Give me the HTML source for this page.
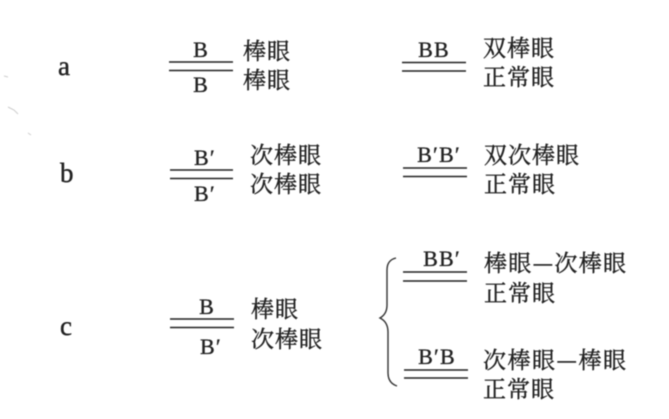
<!DOCTYPE html>
<html><head><meta charset="utf-8">
<style>
html,body{margin:0;padding:0;background:#fff;width:669px;height:419px;overflow:hidden}
svg{display:block;filter:blur(0.5px)}
.l{font-family:"Liberation Serif",serif;fill:#222;stroke:#222;stroke-width:.4}
.z{font-family:"Liberation Serif",serif;font-size:22px;fill:#222;stroke:#222;stroke-width:.35;text-anchor:middle;letter-spacing:1.2px}
.c{font-family:"Noto Serif CJK SC","Liberation Serif",serif;font-size:23px;fill:#222;stroke:#222;stroke-width:.4;letter-spacing:1px}
line{stroke:#222;stroke-width:1.6}
</style></head><body>
<svg width="669" height="419" viewBox="0 0 669 419" xmlns="http://www.w3.org/2000/svg">
<text class="l" x="58" y="75" font-size="27">a</text>
<text class="l" x="60" y="182" font-size="27">b</text>
<text class="l" x="60" y="335" font-size="27">c</text>

<text class="z" x="201" y="57">B</text>
<line x1="169" y1="62" x2="233" y2="62"/><line x1="169" y1="70.5" x2="233" y2="70.5"/>
<text class="z" x="201" y="92">B</text>
<text class="c" x="243" y="59">棒眼</text>
<text class="c" x="243" y="88">棒眼</text>

<text class="z" x="205" y="165">B′</text>
<line x1="170" y1="170" x2="233" y2="170"/><line x1="170" y1="178.5" x2="233" y2="178.5"/>
<text class="z" x="205" y="201">B′</text>
<text class="c" x="250" y="163">次棒眼</text>
<text class="c" x="250" y="192">次棒眼</text>

<text class="z" x="434" y="57">BB</text>
<line x1="402" y1="62.5" x2="466" y2="62.5"/><line x1="402" y1="71" x2="466" y2="71"/>
<text class="c" x="483" y="56">双棒眼</text>
<text class="c" x="483" y="85">正常眼</text>

<text class="z" x="439" y="162">B′B′</text>
<line x1="403" y1="168" x2="467" y2="168"/><line x1="403" y1="176.5" x2="467" y2="176.5"/>
<text class="c" x="484" y="163">双次棒眼</text>
<text class="c" x="484" y="192">正常眼</text>

<text class="z" x="207" y="314">B</text>
<line x1="170" y1="319" x2="234" y2="319"/><line x1="170" y1="327.5" x2="234" y2="327.5"/>
<text class="z" x="211" y="354">B′</text>
<text class="c" x="251" y="317">棒眼</text>
<text class="c" x="251" y="347">次棒眼</text>

<path d="M396 258 Q387 260 387 270 L387 305 Q387 314 380 318 Q388 322 388 332 L388 373 Q388 383 397 386" fill="none" stroke="#333" stroke-width="1.4"/>

<text class="z" x="442" y="266">BB′</text>
<line x1="403" y1="272" x2="467" y2="272"/><line x1="403" y1="281" x2="467" y2="281"/>
<text class="c" x="484" y="271" textLength="143">棒眼—次棒眼</text>
<text class="c" x="484" y="301">正常眼</text>

<text class="z" x="437" y="364">B′B</text>
<line x1="404" y1="370" x2="468" y2="370"/><line x1="404" y1="378" x2="468" y2="378"/>
<text class="c" x="483" y="368" textLength="144">次棒眼—棒眼</text>
<text class="c" x="483" y="397">正常眼</text>

<path d="M4 76 L8 77 M8 107 L14 110 L18 114 M28 133 L31 135" stroke="#ccc" stroke-width="1" fill="none"/>
</svg>
</body></html>
